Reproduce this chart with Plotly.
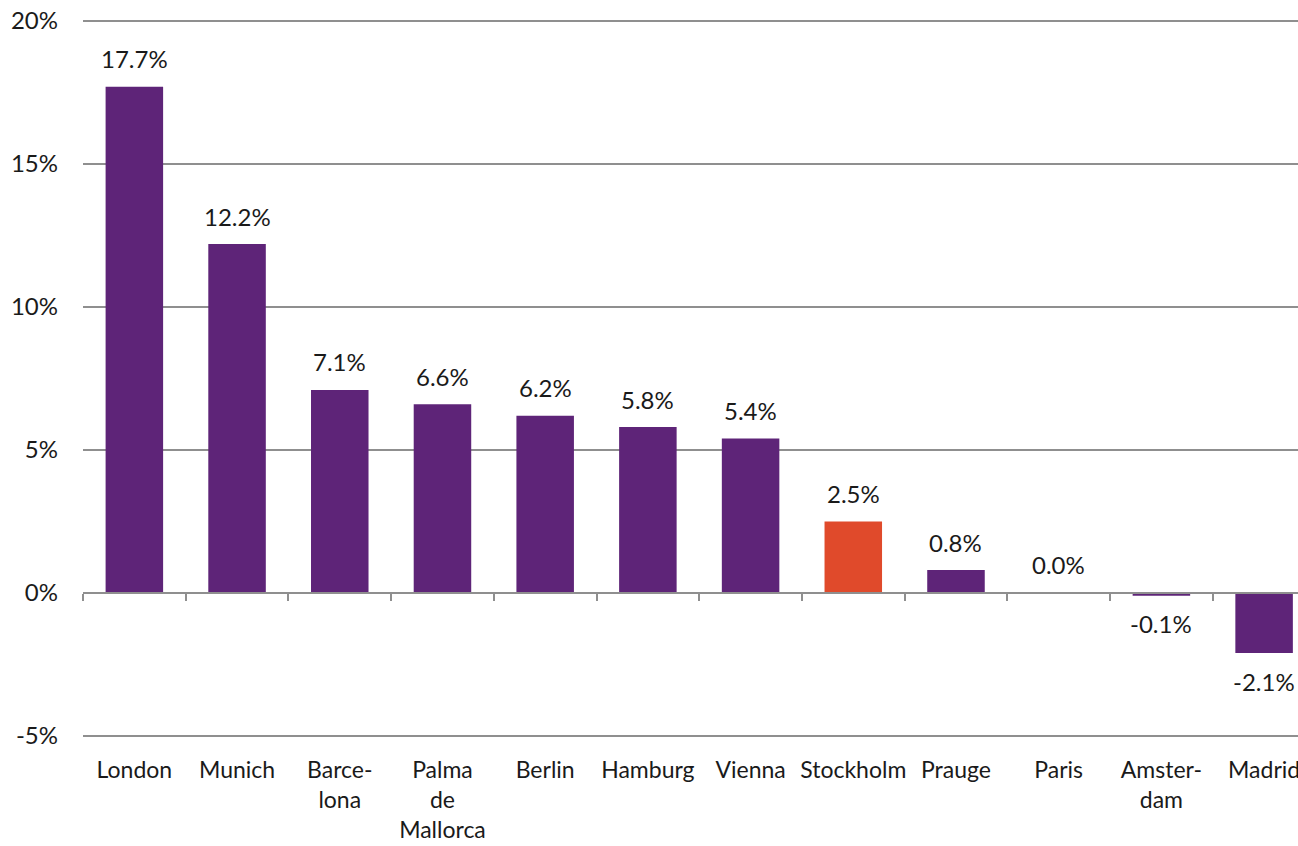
import plotly.graph_objects as go

categories = ["London", "Munich", "Barcelona", "Palma de Mallorca", "Berlin", "Hamburg",
              "Vienna", "Stockholm", "Prauge", "Paris", "Amsterdam", "Madrid"]
tick_labels = ["London", "Munich", "Barce-<br>lona", "Palma<br>de<br>Mallorca", "Berlin", "Hamburg",
               "Vienna", "Stockholm", "Prauge", "Paris", "Amster-<br>dam", "Madrid"]
values = [17.7, 12.2, 7.1, 6.6, 6.2, 5.8, 5.4, 2.5, 0.8, 0.02, -0.1, -2.1]
highlight = "Stockholm"
y_ticks = [-5, 0, 5, 10, 15, 20]

PURPLE = "#5E2478"
ORANGE = "#E04A2B"
GRID = "#8F8F8F"
FONT = "Lato"
TXT = "#1a1a1a"

colors = [ORANGE if c == highlight else PURPLE for c in categories]

yrange = [-5.07, 20.07]
zero_pos = (0 - yrange[0]) / (yrange[1] - yrange[0])
xrange = [-0.5, 11.33]

fig = go.Figure()
fig.add_trace(go.Bar(x=categories, y=values, marker=dict(color=colors, line=dict(width=0)),
                     width=0.56, hoverinfo="skip"))
# invisible trace carrying the zero-line axis with boundary ticks
fig.add_trace(go.Scatter(x=categories, y=values, xaxis="x2", mode="lines",
                         opacity=0, hoverinfo="skip", showlegend=False))

for c, v in zip(categories, values):
    fig.add_annotation(x=c, y=v, text=f"{v:.1f}%", showarrow=False,
                       yshift=28 if v >= 0 else -28, yanchor="middle",
                       font=dict(family=FONT, size=24, color=TXT))

fig.update_layout(
    width=1298, height=846,
    margin=dict(l=83, r=0, t=19, b=108, autoexpand=False),
    paper_bgcolor="white", plot_bgcolor="white",
    showlegend=False,
    font=dict(family=FONT, size=23, color=TXT),
    xaxis=dict(type="category", categoryarray=categories, range=xrange,
               tickvals=categories, ticktext=tick_labels, showgrid=False,
               showline=False, ticks="", zeroline=False, ticklabelstandoff=16,
               automargin=False,
               tickfont=dict(family=FONT, size=23, color=TXT)),
    xaxis2=dict(type="category", categoryarray=categories, overlaying="x", matches="x",
                anchor="free", position=zero_pos, range=xrange, showgrid=False,
                showline=True, linecolor=GRID, linewidth=2, ticks="outside",
                tickson="boundaries", ticklen=7, tickwidth=2, tickcolor=GRID,
                showticklabels=False, zeroline=False, side="bottom", automargin=False),
    yaxis=dict(range=yrange, tickvals=y_ticks, ticktext=[f"{t}%" for t in y_ticks],
               showgrid=True, gridcolor=GRID, gridwidth=2, zeroline=False,
               showline=False, ticks="", ticklabelstandoff=24, automargin=False,
               tickfont=dict(family=FONT, size=24, color=TXT)),
)

fig.write_html("out.html", config={"displayModeBar": False},
               post_script="document.body.style.margin='0';document.body.style.overflow='hidden';")
